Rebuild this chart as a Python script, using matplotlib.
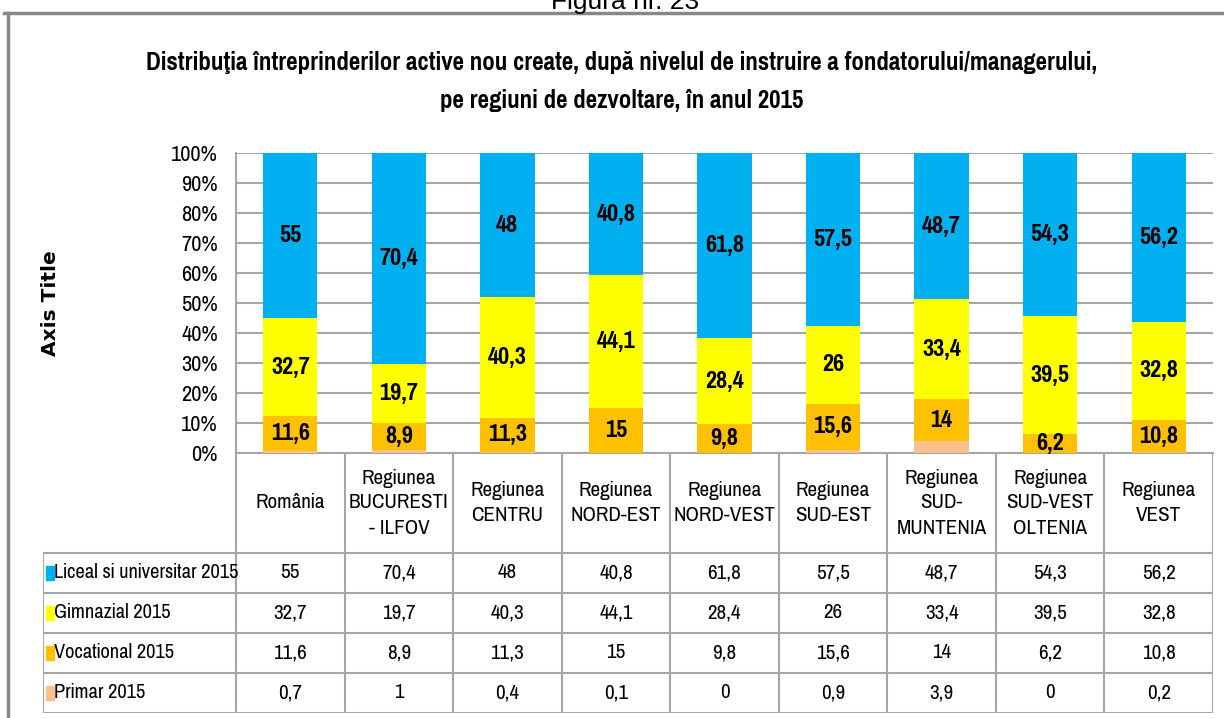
import matplotlib
matplotlib.use("Agg")
import matplotlib.pyplot as plt
from matplotlib.patches import Rectangle
from matplotlib.lines import Line2D
import numpy as np

categories = ["România", "Regiunea\nBUCURESTI\n- ILFOV", "Regiunea\nCENTRU", "Regiunea\nNORD-EST",
              "Regiunea\nNORD-VEST", "Regiunea\nSUD-EST", "Regiunea\nSUD-\nMUNTENIA",
              "Regiunea\nSUD-VEST\nOLTENIA", "Regiunea\nVEST"]
series_names = ["Liceal si universitar 2015", "Gimnazial 2015", "Vocational 2015", "Primar 2015"]
liceal = [55, 70.4, 48, 40.8, 61.8, 57.5, 48.7, 54.3, 56.2]
gimnazial = [32.7, 19.7, 40.3, 44.1, 28.4, 26, 33.4, 39.5, 32.8]
vocational = [11.6, 8.9, 11.3, 15, 9.8, 15.6, 14, 6.2, 10.8]
primar = [0.7, 1, 0.4, 0.1, 0, 0.9, 3.9, 0, 0.2]
colors = ["#00B0F0", "#FFFF00", "#FFC000", "#FAC090"]

NARROW = dict(family=["Pragati Narrow", "DejaVu Sans"])

W, H = 1224, 718
fig = plt.figure(figsize=(W / 100, H / 100), dpi=100)


def fx(px):
    return px / W


def fy(py):
    return 1 - py / H


def fmt(v):
    return f"{v:g}".replace(".", ",")


# outer chart frame and the caption cut off above it
fig.add_artist(Line2D([fx(4), fx(1224)], [fy(13), fy(13)], color="#888888", lw=2.5))
fig.add_artist(Line2D([fx(8), fx(8)], [fy(13), fy(718)], color="#888888", lw=2.5))
fig.text(fx(625), fy(9), "Figura nr. 23", ha="center", va="baseline", fontsize=19,
         family="Liberation Sans")

fig.text(fx(622), fy(62), "Distribuţia întreprinderilor active nou create, după nivelul de instruire a fondatorului/managerului,",
         ha="center", va="center", fontsize=19.5, fontweight="bold", **NARROW)
fig.text(fx(622), fy(100), "pe regiuni de dezvoltare, în anul 2015",
         ha="center", va="center", fontsize=19.5, fontweight="bold", **NARROW)
fig.text(fx(50), fy(303), "Axis Title", rotation=90, ha="center", va="center",
         fontsize=14.5, fontweight="bold", family="DejaVu Sans")

ax = fig.add_axes([fx(236), fy(453), fx(1213) - fx(236), fy(153) - fy(453)])
x = np.arange(len(categories))
data = [liceal, gimnazial, vocational, primar]
order = [3, 2, 1, 0]  # bottom to top
bottom = np.zeros(len(categories))
for i in order:
    vals = np.array(data[i], dtype=float)
    ax.bar(x, vals, 0.5, bottom=bottom, color=colors[i], zorder=3)
    if i < 3:
        for xi, (b, v) in enumerate(zip(bottom, vals)):
            ax.text(xi, b + v / 2, fmt(v), ha="center", va="center", fontsize=19,
                    fontweight="bold", zorder=4, **NARROW)
    bottom += vals

ax.set_xlim(-0.5, len(categories) - 0.5)
ax.set_ylim(0, 100)
ax.set_yticks(np.arange(0, 101, 10))
ax.set_yticklabels([f"{v}%" for v in range(0, 101, 10)], fontsize=17.5, **NARROW)
ax.tick_params(axis="y", length=0, pad=13)
ax.set_xticks([])
ax.yaxis.grid(True, color="#A6A6A6", lw=1.5, zorder=0)
for s in ["top", "right"]:
    ax.spines[s].set_visible(False)
for s in ["left", "bottom"]:
    ax.spines[s].set_color("#A6A6A6")
    ax.spines[s].set_linewidth(1.5)

# data table under the plot, same x scale
label_w = (236 - 43) / ((1213 - 236) / len(categories))
tax = fig.add_axes([fx(43), fy(713), fx(1213) - fx(43), fy(453) - fy(713)])
tax.set_xlim(-0.5 - label_w, len(categories) - 0.5)
head = 2.5
nrows = len(series_names)
tax.set_ylim(head + nrows, 0)
tax.axis("off")
lc = "#A6A6A6"
for b in np.arange(-0.5, len(categories) + 0.5, 1):
    tax.plot([b, b], [0, head + nrows], color=lc, lw=1.5, solid_capstyle="butt")
tax.plot([-0.5 - label_w] * 2, [head, head + nrows], color=lc, lw=1.5)
for r in range(nrows + 1):
    tax.plot([-0.5 - label_w, len(categories) - 0.5], [head + r] * 2, color=lc, lw=1.5)
for xi, c in enumerate(categories):
    tax.text(xi, head / 2, c, ha="center", va="center", fontsize=16.5, linespacing=1.4, **NARROW)
for r, (name, vals) in enumerate(zip(series_names, data)):
    yc = head + r + 0.5
    tax.add_patch(Rectangle((-0.5 - label_w + 0.03, yc - 0.18), 0.07, 0.36, color=colors[r]))
    tax.text(-0.5 - label_w + 0.1, yc, name, ha="left", va="center", fontsize=16, **NARROW)
    for xi, v in enumerate(vals):
        tax.text(xi, yc, fmt(v), ha="center", va="center", fontsize=16.5, **NARROW)

fig.savefig("out.png", dpi=100)
